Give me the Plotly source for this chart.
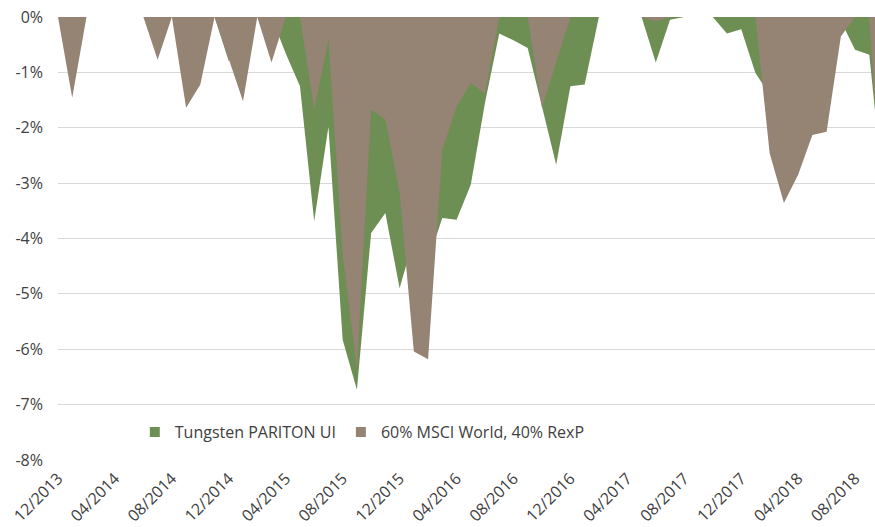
import plotly.graph_objects as go

months = ["12/2013","01/2014","02/2014","03/2014","04/2014","05/2014","06/2014","07/2014",
          "08/2014","09/2014","10/2014","11/2014","12/2014","01/2015","02/2015","03/2015",
          "04/2015","05/2015","06/2015","07/2015","08/2015","09/2015","10/2015","11/2015",
          "12/2015","01/2016","02/2016","03/2016","04/2016","05/2016","06/2016","07/2016",
          "08/2016","09/2016","10/2016","11/2016","12/2016","01/2017","02/2017","03/2017",
          "04/2017","05/2017","06/2017","07/2017","08/2017","09/2017","10/2017","11/2017",
          "12/2017","01/2018","02/2018","03/2018","04/2018","05/2018","06/2018","07/2018",
          "08/2018","09/2018","10/2018"]

tungsten = [0, 0, 0, 0, 0, 0, 0, 0,
            0, 0, 0, 0, -0.80, -0.40, 0, 0,
            -0.66, -1.25, -3.69, -1.98, -5.83, -6.73, -3.90, -3.54,
            -4.90, -4.00, -4.40, -3.63, -3.66, -3.03, -1.55, -0.30,
            -0.42, -0.56, -1.60, -2.67, -1.25, -1.22, 0, 0,
            0, 0, -0.82, -0.05, 0, 0, 0, -0.30,
            -0.22, -1.01, -1.40, -1.00, -0.80, -0.60, -0.50, -0.07,
            -0.59, -0.68, -3.20]

benchmark = [0, -1.46, 0, 0, 0, 0, 0, -0.77,
             0, -1.64, -1.22, 0, -0.74, -1.52, 0, -0.82,
             0, 0, -1.67, -0.41, -4.30, -6.35, -1.67, -1.85,
             -3.18, -6.04, -6.18, -2.40, -1.62, -1.19, -1.38, 0,
             0, 0, -1.64, -0.80, 0, 0, 0, 0,
             0, 0, -0.08, 0, 0, 0, 0, 0,
             0, 0, -2.46, -3.36, -2.85, -2.13, -2.07, -0.35,
             0, 0, -3.85]

tick_idx = list(range(0, 57, 4))
tick_labels = [months[i] for i in tick_idx]
y_vals = [0, -1, -2, -3, -4, -5, -6, -7, -8]
y_labels = ["0%", "-1%", "-2%", "-3%", "-4%", "-5%", "-6%", "-7%", "-8%"]

GREEN = "#6E8F54"
BROWN = "#958374"
GRID = "#D9D9D9"
TXT = "#404040"
FONT = "Open Sans"

x = list(range(len(months)))

fig = go.Figure()
fig.add_trace(go.Scatter(x=x, y=tungsten, mode="lines", fill="tozeroy",
                         fillcolor=GREEN, line=dict(width=0, color=GREEN),
                         showlegend=False, hoverinfo="skip"))
fig.add_trace(go.Scatter(x=x, y=benchmark, mode="lines", fill="tozeroy",
                         fillcolor=BROWN, line=dict(width=0, color=BROWN),
                         showlegend=False, hoverinfo="skip"))
# legend entries (square markers like the original)
fig.add_trace(go.Scatter(x=[None], y=[None], mode="markers", name="Tungsten PARITON UI",
                         marker=dict(symbol="square", size=10, color=GREEN)))
fig.add_trace(go.Scatter(x=[None], y=[None], mode="markers", name="60% MSCI World, 40% RexP",
                         marker=dict(symbol="square", size=10, color=BROWN)))

xr = [0, 57.4]
fig.update_layout(
    width=875, height=527,
    margin=dict(l=58, r=0, t=17, b=67, autoexpand=False),
    paper_bgcolor="white", plot_bgcolor="white",
    font=dict(family=FONT, size=16, color=TXT),
    xaxis=dict(range=xr, tickmode="array", tickvals=tick_idx, ticktext=tick_labels,
               tickangle=-45, showgrid=False, zeroline=False, showline=False,
               ticks="", tickfont=dict(size=16, color=TXT), automargin=False,
               ticklabelstandoff=5),
    xaxis2=dict(range=xr, overlaying="x", side="top", anchor="y", tickmode="array",
                tickvals=tick_idx, showticklabels=False, ticks="inside", ticklen=5,
                tickcolor=GRID, showline=True, linecolor=GRID, linewidth=1,
                showgrid=False, zeroline=False, automargin=False),
    yaxis=dict(range=[-8, 0], tickmode="array", tickvals=y_vals, ticktext=y_labels,
               showgrid=True, gridcolor=GRID, gridwidth=1, zeroline=False,
               showline=False, ticks="", tickfont=dict(size=16, color=TXT), automargin=False,
               ticklabelstandoff=14),
    legend=dict(orientation="h", x=0.094, y=0.063, xanchor="left", yanchor="middle",
                bgcolor="rgba(0,0,0,0)", font=dict(size=16, color=TXT)),
    showlegend=True,
)

fig.write_html("out.html", config={"displayModeBar": False, "staticPlot": True},
               post_script="document.body.style.margin='0px';document.body.style.overflow='hidden';")
